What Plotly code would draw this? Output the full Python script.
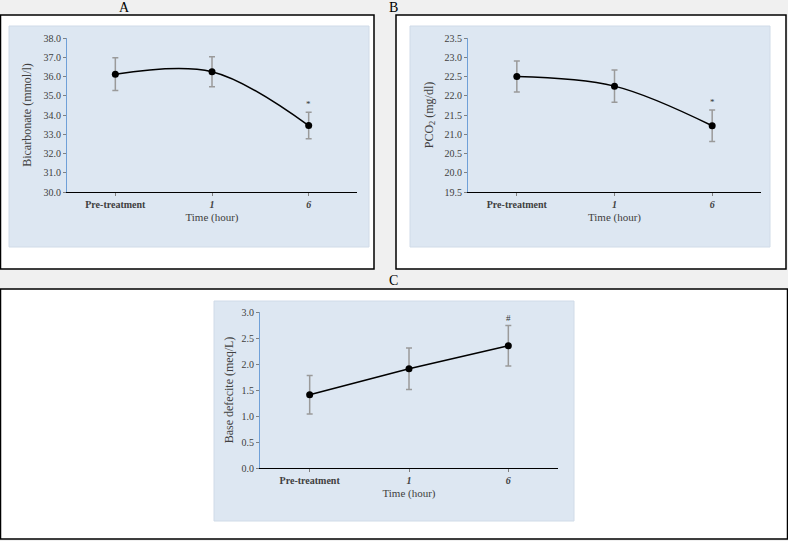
import plotly.graph_objects as go

# ---------------- data ----------------
categories = ["Pre-treatment", "1", "6"]

bicarbonate = [36.12, 36.25, 33.45]
bicarbonate_err = [0.85, 0.78, 0.69]

pco2 = [22.50, 22.25, 21.22]
pco2_err = [0.40, 0.42, 0.41]

base_deficit = [1.41, 1.91, 2.35]
base_deficit_err = [0.37, 0.40, 0.39]

sig_a = ["", "", "*"]
sig_b = ["", "", "*"]
sig_c = ["", "", "#"]

panel_labels = ["A", "B", "C"]

# ---------------- layout helpers ----------------
W, H = 788, 541
def px(x):
    return x / W
def py(y):
    return 1 - y / H

FONT = "Liberation Serif"
fig = go.Figure()

xpos = list(range(len(categories)))
ticktext = ["<b>" + categories[0] + "</b>"] + ["<b><i>" + c + "</i></b>" for c in categories[1:]]

def add_series(vals, errs, sig, xa, ya, shape):
    fig.add_trace(go.Scatter(
        x=xpos, y=vals, xaxis=xa, yaxis=ya,
        mode="lines+markers",
        line=dict(color="black", width=1.5, shape=shape, smoothing=1.0),
        marker=dict(color="black", size=7),
        error_y=dict(type="data", array=errs, visible=True,
                     color="#9a9a9a", thickness=1.5, width=3),
        showlegend=False, hoverinfo="skip",
    ))
    for i, s in enumerate(sig):
        if s:
            fig.add_annotation(x=xpos[i], y=vals[i] + errs[i], xref=xa, yref=ya,
                               text=s, showarrow=False, yanchor="bottom", yshift=1,
                               font=dict(family=FONT, size=9, color="#333333"))

add_series(bicarbonate, bicarbonate_err, sig_a, "x", "y", "spline")
add_series(pco2, pco2_err, sig_b, "x2", "y2", "spline")
add_series(base_deficit, base_deficit_err, sig_c, "x3", "y3", "linear")

def xaxis_cfg(d0, d1, anchor):
    return dict(domain=[px(d0), px(d1)], anchor=anchor, range=[-0.5, 2.5],
                tickmode="array", tickvals=xpos, ticktext=ticktext, automargin=False,
                showgrid=False, zeroline=False, showline=True, linecolor="black",
                linewidth=1.2, ticks="outside", ticklen=3, tickcolor="#808080",
                tickfont=dict(family=FONT, size=10, color="#404040"),
                title=dict(text="Time (hour)", font=dict(family=FONT, size=11, color="#404040"),
                           standoff=4))

def yaxis_cfg(t0, t1, anchor, rng, dtick, title, standoff):
    return dict(domain=[py(t1), py(t0)], anchor=anchor, range=rng, dtick=dtick,
                tickformat=".1f", showgrid=False, zeroline=False, showline=True,
                automargin=False,
                linecolor="#6fa0d8", linewidth=1.2, ticks="outside", ticklen=3,
                tickcolor="#808080",
                tickfont=dict(family=FONT, size=10, color="#404040"),
                title=dict(text=title, font=dict(family=FONT, size=12, color="#404040"),
                           standoff=standoff))

shapes = []
# panel boxes
for (x0, y0, x1, y1) in [(0.5, 15, 374, 269), (396, 15, 786, 269), (0.5, 289, 787.5, 539)]:
    shapes.append(dict(type="rect", xref="paper", yref="paper",
                       x0=px(x0), x1=px(x1), y0=py(y1), y1=py(y0),
                       fillcolor="white", line=dict(color="black", width=1.5), layer="below"))
# light blue chart areas
for (x0, y0, x1, y1) in [(9, 26, 369, 247), (410, 26, 770, 247), (214, 301, 574, 521)]:
    shapes.append(dict(type="rect", xref="paper", yref="paper",
                       x0=px(x0), x1=px(x1), y0=py(y1), y1=py(y0),
                       fillcolor="#dde7f2", line=dict(color="#d0dbe8", width=1), layer="below"))

annotations = []
for lab, (x, y) in zip(panel_labels, [(124, 7), (393, 7), (393, 280)]):
    annotations.append(dict(x=px(x), y=py(y), xref="paper", yref="paper", text=lab,
                            xanchor="center", yanchor="middle",
                            showarrow=False, font=dict(family=FONT, size=14, color="black")))

fig.update_layout(
    width=W, height=H, margin=dict(l=0, r=0, t=0, b=0, pad=0, autoexpand=False),
    paper_bgcolor="#f0f0f0", plot_bgcolor="white",
    xaxis=xaxis_cfg(67, 357, "y"),
    yaxis=yaxis_cfg(38, 192, "x", [30, 38], 1, "Bicarbonate (mmol/l)", 9),
    xaxis2=xaxis_cfg(468, 761, "y2"),
    yaxis2=yaxis_cfg(38, 192, "x2", [19.5, 23.5], 0.5, "PCO<sub>2</sub> (mg/dl)", 8),
    xaxis3=xaxis_cfg(260, 558, "y3"),
    yaxis3=yaxis_cfg(312, 468, "x3", [0, 3], 0.5, "Base defecite (meq/L)", 5),
    shapes=shapes,
)
for a in annotations:
    fig.add_annotation(**a)

fig.write_html("out.html", config={"displayModeBar": False},
               post_script="document.body.style.margin='0px';")
